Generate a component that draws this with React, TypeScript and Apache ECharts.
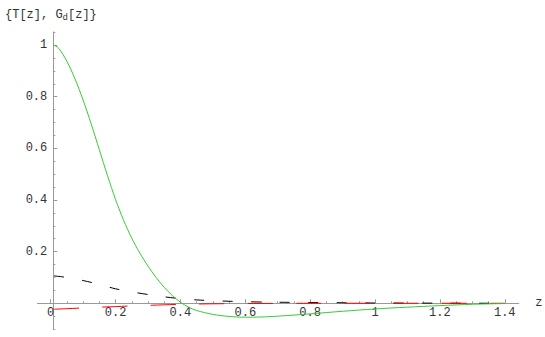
import React, { useEffect, useRef } from "react";
import * as echarts from "echarts";

// z values and the three curves
const greenZ = [0.01, 0.025, 0.05, 0.075, 0.1, 0.125, 0.15, 0.175, 0.2, 0.225, 0.25, 0.275, 0.3, 0.325, 0.35, 0.375, 0.4, 0.425, 0.45, 0.5, 0.55, 0.6, 0.65, 0.7, 0.8, 0.9, 1.0, 1.1, 1.2, 1.3, 1.4];
const greenT = [1.0, 0.987, 0.937, 0.869, 0.787, 0.694, 0.595, 0.495, 0.402, 0.321, 0.252, 0.194, 0.144, 0.1, 0.062, 0.03, 0.004, -0.015, -0.028, -0.043, -0.051, -0.054, -0.053, -0.05, -0.041, -0.031, -0.022, -0.015, -0.009, -0.004, -0.001];

const blackZ = [0.01, 0.05, 0.1, 0.15, 0.2, 0.25, 0.3, 0.35, 0.4, 0.45, 0.5, 0.6, 0.7, 0.8, 0.9, 1.0, 1.2, 1.4];
const blackG = [0.106, 0.1, 0.088, 0.073, 0.056, 0.044, 0.034, 0.025, 0.018, 0.013, 0.01, 0.006, 0.004, 0.003, 0.002, 0.001, 0.0005, 0.0];

const redZ = [0.01, 0.05, 0.1, 0.15, 0.2, 0.25, 0.3, 0.35, 0.4, 0.45, 0.5, 0.6, 0.7, 0.8, 1.0, 1.2, 1.4];
const redG = [-0.023, -0.021, -0.018, -0.015, -0.013, -0.01, -0.008, -0.006, -0.004, -0.003, -0.002, -0.001, -0.0005, 0, 0, 0, 0];

const xMajorTicks = [0, 0.2, 0.4, 0.6, 0.8, 1, 1.2, 1.4];
const xMinorTicks = [0.05, 0.1, 0.15, 0.25, 0.3, 0.35, 0.45, 0.5, 0.55, 0.65, 0.7, 0.75, 0.85, 0.9, 0.95, 1.05, 1.1, 1.15, 1.25, 1.3, 1.35];
const yMajorTicks = [0.2, 0.4, 0.6, 0.8, 1];
const yMinorTicks = [-0.1, -0.05, 0.05, 0.1, 0.15, 0.25, 0.3, 0.35, 0.45, 0.5, 0.55, 0.65, 0.7, 0.75, 0.85, 0.9, 0.95, 1.05];

const X_MIN = -0.04;
const X_MAX = 1.443;
const Y_MIN = -0.1;
const Y_MAX = 1.05;

const pairs = (xs: number[], ys: number[]) => xs.map((x, i) => [x, ys[i]]);

const FONT = "'Liberation Mono', 'DejaVu Sans Mono', monospace";
const AXIS_COLOR = "#999999";
const TEXT_COLOR = "#333333";

export default function App() {
  const ref = useRef<HTMLDivElement>(null);
  useEffect(() => {
    if (!ref.current) return;
    const chart = echarts.init(ref.current, null, { renderer: "svg" });
    const gridLeft = 37.7;
    const gridWidth = 481;
    const gridTop = 32.1;
    const gridHeight = 297;
    const xScale = gridWidth / (X_MAX - X_MIN);
    const yScale = gridHeight / (Y_MAX - Y_MIN);
    const yAxisOffset = -((0.008 - X_MIN) * xScale);
    const xAxisOffset = -((0 - Y_MIN) * yScale);
    const xLabel = (v: number) => (v === 0 ? "0" : String(Math.round(v * 10) / 10));
    const baseX = {
      type: "value",
      min: X_MIN,
      max: X_MAX,
      position: "bottom",
      offset: xAxisOffset,
      splitLine: { show: false },
      axisLine: { show: true, onZero: false, lineStyle: { color: AXIS_COLOR, width: 1 } },
    };
    const baseY = {
      type: "value",
      min: Y_MIN,
      max: Y_MAX,
      position: "left",
      offset: yAxisOffset,
      splitLine: { show: false },
      axisLine: { show: true, onZero: false, lineStyle: { color: AXIS_COLOR, width: 1 } },
    };
    chart.setOption({
      animation: false,
      grid: { left: gridLeft, top: gridTop, width: gridWidth, height: gridHeight, outerBoundsMode: "none", containLabel: false },
      xAxis: [
        {
          ...baseX,
          name: "z",
          nameLocation: "end",
          nameGap: 16.5,
          nameTextStyle: { fontFamily: FONT, fontSize: 12, color: TEXT_COLOR },
          axisTick: { show: true, inside: true, length: 4, customValues: xMajorTicks, lineStyle: { color: AXIS_COLOR } },
          axisLabel: {
            show: true,
            customValues: xMajorTicks,
            margin: 4,
            fontFamily: FONT,
            fontSize: 12,
            color: TEXT_COLOR,
            formatter: (v: number) => xLabel(v),
          },
        },
        {
          ...baseX,
          axisTick: { show: true, inside: true, length: 2, customValues: xMinorTicks, lineStyle: { color: AXIS_COLOR } },
          axisLabel: { show: false },
        },
      ],
      yAxis: [
        {
          ...baseY,
          axisTick: { show: true, inside: true, length: 4, customValues: yMajorTicks, lineStyle: { color: AXIS_COLOR } },
          axisLabel: {
            show: true,
            customValues: yMajorTicks,
            margin: 6,
            fontFamily: FONT,
            fontSize: 12,
            color: TEXT_COLOR,
            formatter: (v: number) => String(Math.round(v * 10) / 10),
          },
        },
        {
          ...baseY,
          axisTick: { show: true, inside: true, length: 2, customValues: yMinorTicks, lineStyle: { color: AXIS_COLOR } },
          axisLabel: { show: false },
        },
      ],
      graphic: [
        {
          type: "text",
          left: 5,
          top: 9,
          style: {
            text: "{T[z], G{sub|d}[z]}",
            fontFamily: FONT,
            fontSize: 12,
            fill: TEXT_COLOR,
            rich: {
              sub: { fontFamily: FONT, fontSize: 9, fill: TEXT_COLOR, padding: [5, 0, 0, 0] },
            },
          },
        },
      ],
      series: [
        {
          type: "line",
          name: "Gd black",
          data: pairs(blackZ, blackG),
          showSymbol: false,
          smooth: 0.3,
          lineStyle: { color: "#000000", width: 1, type: [10, 18.5] },
          z: 3,
        },
        {
          type: "line",
          name: "Gd red",
          data: pairs(redZ, redG),
          showSymbol: false,
          smooth: 0.3,
          lineStyle: { color: "#ff0000", width: 1, type: [25, 23.5] },
          z: 3,
        },
        {
          type: "line",
          name: "T",
          data: pairs(greenZ, greenT),
          showSymbol: false,
          smooth: 0.3,
          lineStyle: { color: "#33cc33", width: 1 },
          z: 4,
        },
      ],
    });
    return () => chart.dispose();
  }, []);
  return (
    <div
      ref={ref}
      style={{ position: "absolute", left: 0, top: 0, width: 545, height: 337, background: "#ffffff" }}
    />
  );
}
